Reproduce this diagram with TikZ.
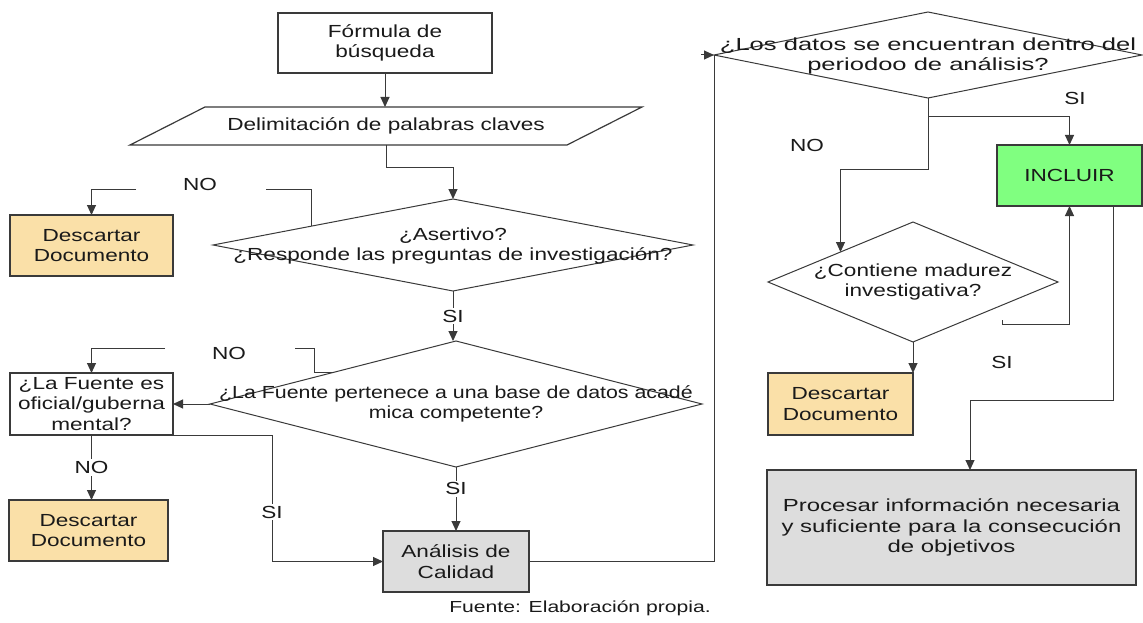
\documentclass[tikz,border=0pt]{standalone}
\usepackage{fontspec}
\setmainfont{Liberation Sans}[FakeStretch=1.29]
\newfontfamily\fwideA{Liberation Sans}[FakeStretch=1.46]
\newfontfamily\fwideB{Liberation Sans}[FakeStretch=1.37]
\newfontfamily\fnarrowA{Liberation Sans}[FakeStretch=1.22]
\newfontfamily\fcap{Liberation Sans}[FakeStretch=1.32]
\usetikzlibrary{arrows.meta,shapes.geometric,calc}

\definecolor{linec}{HTML}{3A3A3A}
\definecolor{txtc}{HTML}{1A1A1A}
\definecolor{tanfill}{HTML}{FAE0A8}
\definecolor{greenfill}{HTML}{80FF80}
\definecolor{grayfill}{HTML}{DDDDDD}

\begin{document}
\begin{tikzpicture}[x=1pt,y=-1pt,
  base/.style={font=\fontsize{17.5}{20.5}\selectfont, text=txtc, align=center, inner sep=0pt, outer sep=0pt},
  box/.style={base, draw=linec, line width=1.2pt, rectangle},
  discard/.style={box, fill=tanfill, minimum width=#1, minimum height=61pt},
  dia/.style={draw=linec, line width=1pt, diamond, inner sep=0pt, outer sep=0pt, fill=white},
  lbl/.style={base, fill=white, inner sep=2pt},
  ln/.style={draw=linec, line width=1pt},
  arr/.style={ln, -{Triangle[length=10pt,width=9pt]}}
]
\fill[white] (0,0) rectangle (1143,623);
\useasboundingbox (0,0) rectangle (1143,623);

% ---- left column: search and screening ----
\node[box, minimum width=214pt, minimum height=60pt] (f) at (385,43) {Fórmula de\\búsqueda};

\draw[linec, line width=1.2pt, fill=white] (205,107) -- (642,107) -- (567,145) -- (130,145) -- cycle;
\node[base, minimum height=38pt] (p) at (386,126) {Delimitación de palabras claves};

\node[dia, minimum width=480pt, minimum height=92pt] (d1) at (453,245) {};
\node[base] (d1t) at (453,246) {¿Asertivo?\\¿Responde las preguntas de investigación?};

\node[discard=163pt] (dc1) at (91.5,245.5) {Descartar\\Documento};

\node[dia, minimum width=492pt, minimum height=126pt] (d2) at (456,404) {};
\node[base, font=\fnarrowA\fontsize{17.5}{20.5}\selectfont] (d2t) at (456,404) {¿La Fuente pertenece a una base de datos acadé\\mica competente?};

\node[box, fill=white, minimum width=163pt, minimum height=62pt] (of) at (91.5,404) {¿La Fuente es\\oficial/guberna\\mental?};
\node[discard=159pt] (dc2) at (88.5,530.5) {Descartar\\Documento};
\node[box, fill=grayfill, minimum width=146pt, minimum height=61pt] (an) at (456,561.5) {Análisis de\\Calidad};

% ---- right column: period and maturity checks ----
\node[dia, minimum width=428pt, minimum height=86pt] (d3) at (928,55) {};
\node[base, font=\fwideA\fontsize{17.5}{20.5}\selectfont] (d3t) at (928,56) {¿Los datos se encuentran dentro del\\periodoo de análisis?};

\node[box, fill=greenfill, minimum width=145pt, minimum height=61pt] (inc) at (1069.5,175.5) {INCLUIR};

\node[dia, minimum width=290pt, minimum height=120pt] (d4) at (913,282) {};
\node[base] (d4t) at (913,282) {¿Contiene madurez\\investigativa?};

\node[discard=145pt, minimum height=62pt] (dc3) at (840.5,404) {Descartar\\Documento};
\node[box, fill=grayfill, minimum width=369pt, minimum height=115pt, font=\fwideB\fontsize{17.5}{20.5}\selectfont] (pr) at (951.5,527.5) {Procesar información necesaria\\y suficiente para la consecución\\de objetivos};

% ---- connectors ----
\draw[arr] (f.south) -- (f.south |- p.north);
\draw[arr] (p.south) -- ++(0,22) -| (d1.north);

% first rejection branch
\coordinate (n1s) at ($(d1.west)!0.41!(d1.north)$);
\coordinate (n1a) at (266,189);
\coordinate (n1b) at (136,189);
\draw[ln] (n1s) |- (n1a);
\node[base] (no1) at (200,184) {NO};
\draw[arr] (n1b) -| (dc1.north);

\draw[arr] (d1.south) -- node[lbl] (si1) {SI} (d1.south |- d2.north);

% second rejection branch
\coordinate (n2a) at (295,348);
\coordinate (n2b) at (165,348);
\draw[ln] (d2.north west) -- ++(-19,0) |- (n2a);
\node[base] (no2) at (229,353) {NO};
\draw[arr] (n2b) -| (of.north);

\draw[arr] (d2.west) -- (of.west -| of.east);
\draw[arr] (of.south) -- node[lbl] (no3) {NO} (of.south |- dc2.north);

\coordinate (k1) at (272,435);
\draw[arr] (of.south east) -- (k1) -- node[lbl, pos=0.61] (si2) {SI} (k1 |- an.west) -- (an.west);

\draw[arr] (d2.south) -- node[lbl, pos=0.34] (si3) {SI} (d2.south |- an.north);

\draw[ln] (an.east) -| (d3.west);
\draw[arr] ([xshift=-13pt]d3.west) -- (d3.west);

\draw[arr] (d3.south) -- ++(0,19) -| (inc.north);
\node[base] (si4) at (1075,98) {SI};

\draw[arr] (d3.south) -- ++(0,71) -| (d4.north west);
\node[base] (no4) at (807,145) {NO};

\draw[arr] (d4.south) -- (dc3.north east);

\coordinate (s5) at (1002,320);
\draw[arr] (s5) -- (1002,324) -| (inc.south);
\node[base] (si5) at (1002,362) {SI};

\draw[arr] ([xshift=43.5pt]inc.south) -- ++(0,194) -| ([xshift=18.5pt]pr.north);

\node[base, font=\fcap\fontsize{16}{19}\selectfont] (cap) at (580,608) {Fuente: Elaboración propia.};
\end{tikzpicture}
\end{document}
